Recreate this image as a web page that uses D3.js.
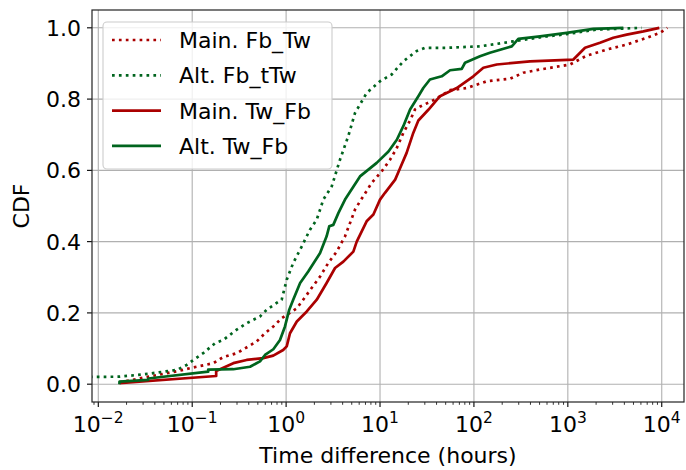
<!DOCTYPE html>
<html>
<head>
<meta charset="utf-8">
<script src="https://cdn.jsdelivr.net/npm/d3@7"></script>
<style>
  body { margin: 0; background: #fff; }
  text { font-family: "DejaVu Sans", sans-serif; fill: #000; }
</style>
</head>
<body>
<div id="chart"></div>
<script>
// Series (hours, CDF)
const mainFbTwHours = [0.0168, 0.0492, 0.0741, 0.103, 0.168, 0.214, 0.298, 0.396, 0.486, 0.596, 0.731, 0.897, 1.3, 1.52, 1.87, 2.3, 2.81, 3.46, 4.24, 4.79, 5.42, 6.12, 8.16, 10.4, 12.8, 15.1, 17.7, 20.9, 23.6, 26.7, 38.5, 55.7, 83.8, 137, 242, 336, 506, 1055, 1590, 2595, 4235, 6920, 9590, 11480];
const mainFbTwCdf   = [0.005, 0.029, 0.038, 0.047, 0.059, 0.076, 0.087, 0.106, 0.12, 0.143, 0.162, 0.185, 0.213, 0.237, 0.27, 0.302, 0.34, 0.372, 0.415, 0.452, 0.49, 0.513, 0.565, 0.597, 0.63, 0.663, 0.705, 0.74, 0.771, 0.779, 0.799, 0.825, 0.831, 0.85, 0.857, 0.874, 0.883, 0.897, 0.922, 0.939, 0.953, 0.972, 0.986, 1.0];

const altFbTwHours = [0.0001, 0.0168, 0.034, 0.0492, 0.0684, 0.0874, 0.103, 0.131, 0.175, 0.214, 0.298, 0.38, 0.527, 0.621, 0.794, 0.897, 1.015, 1.19, 1.47, 1.79, 2.12, 2.3, 2.49, 3.06, 3.75, 4.59, 5.42, 7.2, 10, 13.3, 17.7, 24.6, 30.1, 51.3, 116, 263, 596, 895, 2030, 6120];
const altFbTwCdf   = [0.017, 0.021, 0.029, 0.035, 0.04, 0.054, 0.068, 0.087, 0.115, 0.124, 0.153, 0.171, 0.19, 0.209, 0.228, 0.237, 0.293, 0.34, 0.387, 0.433, 0.462, 0.49, 0.518, 0.555, 0.63, 0.696, 0.761, 0.817, 0.85, 0.869, 0.906, 0.935, 0.944, 0.944, 0.948, 0.962, 0.976, 0.981, 0.995, 1.0];

const mainTwFbHours = [0.0168, 0.18, 0.18, 0.274, 0.38, 0.57, 0.73, 0.93, 1.015, 1.1, 1.3, 1.66, 2.12, 2.7, 3.32, 4.07, 5.2, 5.65, 7.2, 8.5, 10, 11.3, 14.5, 16.3, 19.2, 22.6, 25.6, 32.7, 43.5, 65.6, 98.6, 126, 175, 395, 1145, 1350, 1525, 2200, 3050, 4235, 6370, 9420];
const mainTwFbCdf   = [0.003, 0.023, 0.037, 0.059, 0.068, 0.073, 0.08, 0.096, 0.106, 0.143, 0.176, 0.204, 0.237, 0.284, 0.326, 0.344, 0.372, 0.4, 0.457, 0.476, 0.518, 0.537, 0.574, 0.605, 0.649, 0.705, 0.74, 0.77, 0.808, 0.831, 0.864, 0.888, 0.897, 0.906, 0.911, 0.93, 0.944, 0.958, 0.972, 0.981, 0.99, 1.0];

const altTwFbHours = [0.0168, 0.0168, 0.034, 0.034, 0.148, 0.148, 0.274, 0.413, 0.527, 0.596, 0.731, 0.861, 0.973, 1.08, 1.19, 1.41, 1.72, 2.3, 2.7, 2.88, 3.18, 3.6, 4.24, 6.12, 9.22, 12.3, 15.1, 17.7, 20.9, 25.6, 28.9, 34, 45.4, 55.7, 74.2, 80.4, 116, 148, 253, 297, 506, 973, 1870, 3900];
const altTwFbCdf   = [0.0, 0.007, 0.012, 0.016, 0.035, 0.041, 0.042, 0.049, 0.064, 0.082, 0.098, 0.124, 0.162, 0.209, 0.237, 0.284, 0.316, 0.368, 0.415, 0.443, 0.447, 0.48, 0.518, 0.583, 0.621, 0.653, 0.686, 0.724, 0.771, 0.808, 0.831, 0.855, 0.864, 0.881, 0.885, 0.902, 0.92, 0.93, 0.948, 0.969, 0.976, 0.986, 0.997, 1.0];

const xTicks = [1e-2, 1e-1, 1e0, 1e1, 1e2, 1e3, 1e4];
const xExponents = ["\u22122", "\u22121", "0", "1", "2", "3", "4"];
const yTicks = [0, 0.2, 0.4, 0.6, 0.8, 1.0];

const red = "#aa0000";
const green = "#00641e";

// series in legend order
const series = [
  { name: "Main. Fb_Tw", hours: mainFbTwHours, cdf: mainFbTwCdf, color: red, dotted: true },
  { name: "Alt. Fb_tTw", hours: altFbTwHours, cdf: altFbTwCdf, color: green, dotted: true },
  { name: "Main. Tw_Fb", hours: mainTwFbHours, cdf: mainTwFbCdf, color: red, dotted: false },
  { name: "Alt. Tw_Fb", hours: altTwFbHours, cdf: altTwFbCdf, color: green, dotted: false }
];

const W = 686, H = 470;
const plot = { left: 92, right: 684, top: 10, bottom: 402 };

const svg = d3.select("#chart").append("svg")
  .attr("width", W)
  .attr("height", H);

const x = d3.scaleLog()
  .domain([Math.pow(10, -2.067), Math.pow(10, 4.237)])
  .range([plot.left, plot.right]);

const y = d3.scaleLinear()
  .domain([-0.05, 1.05])
  .range([plot.bottom, plot.top]);

svg.append("defs").append("clipPath").attr("id", "clip")
  .append("rect")
  .attr("x", plot.left).attr("y", plot.top)
  .attr("width", plot.right - plot.left)
  .attr("height", plot.bottom - plot.top);

// grid
const grid = svg.append("g").attr("stroke", "#b0b0b0").attr("stroke-width", 1.1);
grid.selectAll(".gx").data(xTicks).enter().append("line")
  .attr("x1", d => x(d)).attr("x2", d => x(d))
  .attr("y1", plot.top).attr("y2", plot.bottom);
grid.selectAll(".gy").data(yTicks).enter().append("line")
  .attr("x1", plot.left).attr("x2", plot.right)
  .attr("y1", d => y(d)).attr("y2", d => y(d));

// lines
const line = d3.line()
  .x(d => x(d[0]))
  .y(d => y(d[1]));

svg.append("g").attr("clip-path", "url(#clip)")
  .selectAll("path")
  .data(series)
  .enter().append("path")
  .attr("d", s => line(s.hours.map((h, i) => [h, s.cdf[i]])))
  .attr("fill", "none")
  .attr("stroke", s => s.color)
  .attr("stroke-width", 2.7)
  .attr("stroke-linejoin", "round")
  .attr("stroke-dasharray", s => s.dotted ? "2.7,4.2" : null);

// x axis ticks
const minor = [];
for (let e = -3; e <= 4; e++) {
  for (let k = 2; k <= 9; k++) {
    const v = k * Math.pow(10, e);
    if (v >= x.domain()[0] && v <= x.domain()[1]) minor.push(v);
  }
}
const xAxisG = svg.append("g").attr("transform", `translate(0,${plot.bottom})`);
xAxisG.selectAll(".minor").data(minor).enter().append("line")
  .attr("x1", d => x(d)).attr("x2", d => x(d))
  .attr("y1", 0).attr("y2", 2.8)
  .attr("stroke", "#000").attr("stroke-width", 0.8);
xAxisG.selectAll(".major").data(xTicks).enter().append("line")
  .attr("x1", d => x(d)).attr("x2", d => x(d))
  .attr("y1", 0).attr("y2", 5)
  .attr("stroke", "#000").attr("stroke-width", 1.1);

const xLab = xAxisG.selectAll(".xl").data(xTicks).enter().append("text")
  .attr("x", d => x(d))
  .attr("y", 30)
  .attr("text-anchor", "middle")
  .style("font-size", "22px");
xLab.append("tspan").text("10");
xLab.append("tspan")
  .attr("dy", -9.5)
  .style("font-size", "15.5px")
  .text((d, i) => xExponents[i]);

// y axis ticks
const yAxisG = svg.append("g").attr("transform", `translate(${plot.left},0)`);
yAxisG.selectAll("line").data(yTicks).enter().append("line")
  .attr("x1", -5).attr("x2", 0)
  .attr("y1", d => y(d)).attr("y2", d => y(d))
  .attr("stroke", "#000").attr("stroke-width", 1.1);
yAxisG.selectAll("text").data(yTicks).enter().append("text")
  .attr("x", -11)
  .attr("y", d => y(d))
  .attr("dy", "0.36em")
  .attr("text-anchor", "end")
  .style("font-size", "22px")
  .text(d3.format(".1f"));

// frame
svg.append("rect")
  .attr("x", plot.left).attr("y", plot.top)
  .attr("width", plot.right - plot.left)
  .attr("height", plot.bottom - plot.top)
  .attr("fill", "none")
  .attr("stroke", "#222")
  .attr("stroke-width", 1.2);

// axis labels
svg.append("text")
  .attr("x", (plot.left + plot.right) / 2)
  .attr("y", 463)
  .attr("text-anchor", "middle")
  .style("font-size", "22px")
  .text("Time difference (hours)");

svg.append("text")
  .attr("transform", `translate(29,${(plot.top + plot.bottom) / 2}) rotate(-90)`)
  .attr("text-anchor", "middle")
  .style("font-size", "22px")
  .text("CDF");

// legend
const legend = svg.append("g");
legend.append("rect")
  .attr("x", 103).attr("y", 22)
  .attr("width", 229).attr("height", 147)
  .attr("rx", 4)
  .attr("fill", "#fff").attr("fill-opacity", 0.8)
  .attr("stroke", "#cccccc").attr("stroke-width", 1.1);

const rows = legend.selectAll(".row").data(series).enter().append("g")
  .attr("transform", (d, i) => `translate(0,${40 + i * 35.3})`);
rows.append("line")
  .attr("x1", 112).attr("x2", 161)
  .attr("stroke", d => d.color)
  .attr("stroke-width", 2.7)
  .attr("stroke-dasharray", d => d.dotted ? "2.7,4.2" : null);
rows.append("text")
  .attr("x", 179)
  .attr("dy", "0.36em")
  .style("font-size", "22px")
  .text(d => d.name);
</script>
</body>
</html>
